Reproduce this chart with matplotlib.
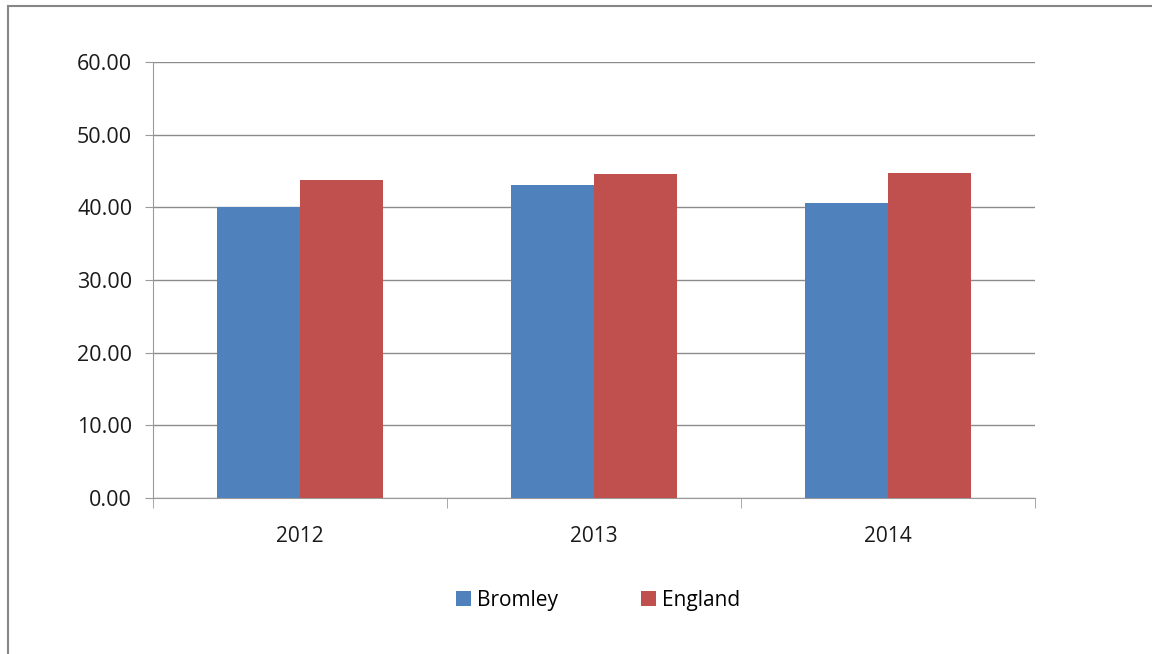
import numpy as np
import matplotlib
matplotlib.use("Agg")
import matplotlib.pyplot as plt
from matplotlib.patches import Rectangle

years = ['2012', '2013', '2014']
bromley = [40.0, 43.07, 40.55]
england = [43.72, 44.54, 44.68]

plt.rcParams['font.family'] = ['Open Sans', 'DejaVu Sans']

fig = plt.figure(figsize=(11.52, 6.54), dpi=100)
ax = fig.add_axes([0.1328, 0.2385, 0.7656, 0.6667])

# outer frame of the chart object
fig.patches.append(Rectangle((8 / 1152, -0.05), 1.2, 1 - 6 / 654 + 0.05,
                             transform=fig.transFigure, fill=False,
                             edgecolor='#868686', linewidth=1.5))

x = np.arange(len(years))
w = 0.283
ax.bar(x - w / 2, bromley, w, color='#4f81bd', label='Bromley', zorder=3)
ax.bar(x + w / 2, england, w, color='#c0504d', label='England', zorder=3)

ax.set_xlim(-0.5, 2.5)
ax.set_ylim(0, 60)
ax.set_yticks(np.arange(0, 61, 10))
ax.set_yticklabels(['%.2f' % v for v in np.arange(0, 61, 10)], fontsize=15.5,
                   color='#1a1a1a')
ax.set_xticks(x)
ax.set_xticklabels(years, fontsize=15, color='#1a1a1a')
ax.set_xticks([-0.5, 0.5, 1.5, 2.5], minor=True)
ax.tick_params(axis='x', which='major', length=0, pad=20)
ax.tick_params(axis='x', which='minor', length=7, color='#9a9a9a')
ax.tick_params(axis='y', length=6, color='#9a9a9a', pad=9)

ax.grid(axis='y', color='#8c8c8c', linewidth=1, zorder=0)
for s in ['top', 'right']:
    ax.spines[s].set_visible(False)
for s in ['left', 'bottom']:
    ax.spines[s].set_color('#9a9a9a')

ax.legend(loc='center', bbox_to_anchor=(0.505, -0.235), ncol=2, frameon=False,
          fontsize=15, handlelength=0.7, handleheight=0.7, handletextpad=0.3,
          columnspacing=4.0)

fig.savefig('out.png', dpi=100)
